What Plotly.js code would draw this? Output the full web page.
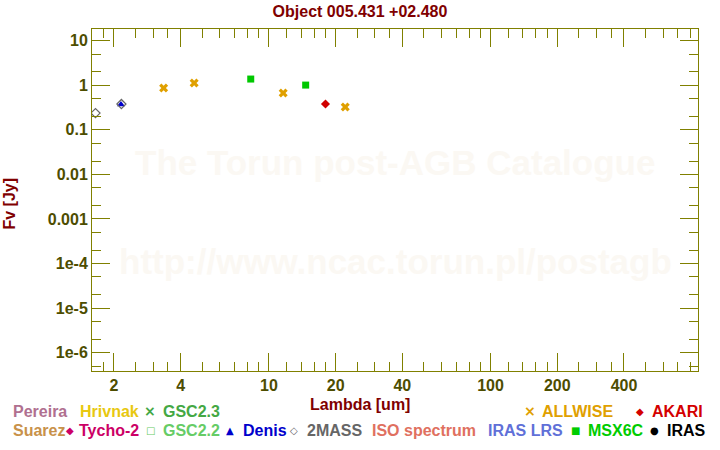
<!DOCTYPE html>
<html><head><meta charset="utf-8">
<script src="https://cdn.plot.ly/plotly-3.0.1.min.js"></script>
<style>html,body{margin:0;padding:0;background:#fff}#chart{width:720px;height:450px}</style>
</head><body><div id="chart"></div>
<script>
// ---- data ----
const denisLam = [2.15];
const denisFlux = [0.37];
const twomassLam = [1.65, 2.16];
const twomassFlux = [0.238, 0.38];
const allwiseLam = [3.35, 4.6, 11.6, 22.1];
const allwiseFlux = [0.865, 1.12, 0.668, 0.324];
const msxLam = [8.28, 14.65];
const msxFlux = [1.38, 1.01];
const akariLam = [18.0];
const akariFlux = [0.38];

const xTickVals = [2, 4, 10, 20, 40, 100, 200, 400];
const xTickText = ["2", "4", "10", "20", "40", "100", "200", "400"];
const xMinorVals = [1.8, 2.5, 3, 3.5, 5, 6, 7, 8, 9, 12, 14, 16, 18, 25, 30, 35,
  50, 60, 70, 80, 90, 120, 140, 160, 180, 250, 300, 350, 500, 600, 700, 800];
const yTickVals = [10, 1, 0.1, 0.01, 0.001, 1e-4, 1e-5, 1e-6];
const yTickText = ["10", "1", "0.1", "0.01", "0.001", "1e-4", "1e-5", "1e-6"];
const yMinorVals = [];
for (let e = -7; e <= 1; e++) { yMinorVals.push(2 * Math.pow(10, e), 5 * Math.pow(10, e)); }

// legend entries: [symbol, symbol centre px, label, color, label left px, row]
const legendItems = [
  ["", 0, "Pereira", "#b07090", 11, 0],
  ["", 0, "Hrivnak", "#e8c810", 78, 0],
  ["×", 150.7, "GSC2.3", "#44a844", 161, 0],
  ["×", 530.7, "ALLWISE", "#e0a000", 540, 0],
  ["◆", 640.7, "AKARI", "#d40000", 650, 0],
  ["", 0, "Suarez", "#c8914a", 11, 1],
  ["◆", 70, "Tycho-2", "#cc0066", 77, 1],
  ["□", 150.7, "GSC2.2", "#66cc66", 161, 1],
  ["▲", 230, "Denis", "#0000cc", 241, 1],
  ["◇", 294.3, "2MASS", "#666666", 305, 1],
  ["", 0, "ISO spectrum", "#e07060", 370, 1],
  ["", 0, "IRAS LRS", "#6070d8", 486, 1],
  ["■", 575.7, "MSX6C", "#00cc00", 586, 1],
  ["●", 655, "IRAS", "#000000", 665, 1]
];

// ---- layout helpers (pixel -> paper) ----
const L = 92.3, R = 698.3, T = 29.3, B = 371;
const px = X => (X - L) / (R - L);
const py = Y => (B - Y) / (B - T);

const olive = "#808000";
const tickCol = "#4d4d00";
const F = "Liberation Sans, Arial, sans-serif";

const traces = [
  {x: denisLam, y: denisFlux, type: "scatter", mode: "markers",
   marker: {symbol: "triangle-up", size: 7, color: "#0000cc"}},
  {x: twomassLam, y: twomassFlux, type: "scatter", mode: "markers",
   marker: {symbol: "diamond-open", size: 7, color: "#666666", line: {width: 1.2, color: "#666666"}}},
  {x: allwiseLam, y: allwiseFlux, type: "scatter", mode: "markers",
   marker: {symbol: "x", size: 8, color: "#e0a000", line: {width: 0}}},
  {x: msxLam, y: msxFlux, type: "scatter", mode: "markers",
   marker: {symbol: "square", size: 7, color: "#00c800"}},
  {x: akariLam, y: akariFlux, type: "scatter", mode: "markers",
   marker: {symbol: "diamond", size: 7, color: "#d00000"}}
];

const annotations = [
  {text: "The Torun post-AGB Catalogue", x: 0.5, y: py(163), xref: "paper", yref: "paper",
   xanchor: "center", yanchor: "middle",
   showarrow: false, font: {family: F, size: 35, color: "#fbf8f3", weight: "bold"}},
  {text: "http://www.ncac.torun.pl/postagb", x: 0.5, y: py(262), xref: "paper", yref: "paper",
   xanchor: "center", yanchor: "middle",
   showarrow: false, font: {family: F, size: 35, color: "#fbf8f3", weight: "bold"}},
  {text: "Lambda [um]", x: px(360), y: py(404), xref: "paper", yref: "paper", showarrow: false,
   xanchor: "center", yanchor: "middle", font: {family: F, size: 16, color: "#800000", weight: "bold"}},
  {text: "Fv [Jy]", x: px(10), y: py(204), xref: "paper", yref: "paper", showarrow: false, textangle: -90,
   xanchor: "center", yanchor: "middle", font: {family: F, size: 16, color: "#800000", weight: "bold"}}
];
legendItems.forEach(it => {
  const rowY = py(it[5] === 0 ? 411 : 430);
  if (it[0]) {
    annotations.push({text: it[0], x: px(it[1]), y: rowY, xref: "paper", yref: "paper",
      showarrow: false, xanchor: "center", yanchor: "middle",
      font: {family: "DejaVu Sans, sans-serif", size: it[0] === "×" ? 14 : 10, color: it[3], weight: "bold"}});
  }
  annotations.push({text: it[2], x: px(it[4]), y: rowY, xref: "paper", yref: "paper",
    showarrow: false, xanchor: "left", yanchor: "middle",
    font: {family: F, size: 16, color: it[3], weight: "bold"}});
});

const layout = {
  width: 720, height: 450,
  margin: {l: 92.3, r: 720 - 698.3, t: 29.3, b: 450 - 371, pad: 0},
  paper_bgcolor: "#ffffff", plot_bgcolor: "#ffffff",
  showlegend: false,
  title: {text: "Object 005.431 +02.480", xref: "container", x: 0.5, xanchor: "center",
          yref: "container", y: 1 - 11 / 450, yanchor: "middle",
          font: {family: F, size: 16, color: "#800000", weight: "bold"}},
  xaxis: {type: "log", range: [0.2018, 2.936], tickmode: "array", tickvals: xTickVals, ticktext: xTickText,
    ticks: "inside", ticklen: 18, tickwidth: 1, tickcolor: olive, showline: true, linecolor: olive, linewidth: 1,
    mirror: "allticks", showgrid: false, zeroline: false,
    tickfont: {family: F, size: 16, color: tickCol, weight: "bold"},
    minor: {tickmode: "array", tickvals: xMinorVals, ticks: "inside", ticklen: 9, tickcolor: olive, tickwidth: 1, showgrid: false}},
  yaxis: {type: "log", range: [-6.411, 1.263], tickmode: "array", tickvals: yTickVals, ticktext: yTickText,
    ticks: "inside", ticklen: 18, tickwidth: 1, tickcolor: olive, showline: true, linecolor: olive, linewidth: 1,
    mirror: "allticks", showgrid: false, zeroline: false,
    tickfont: {family: F, size: 16, color: tickCol, weight: "bold"},
    minor: {tickmode: "array", tickvals: yMinorVals, ticks: "inside", ticklen: 9, tickcolor: olive, tickwidth: 1, showgrid: false}},
  annotations: annotations
};

Plotly.newPlot("chart", traces, layout, {displayModeBar: false, staticPlot: true});
</script></body></html>
